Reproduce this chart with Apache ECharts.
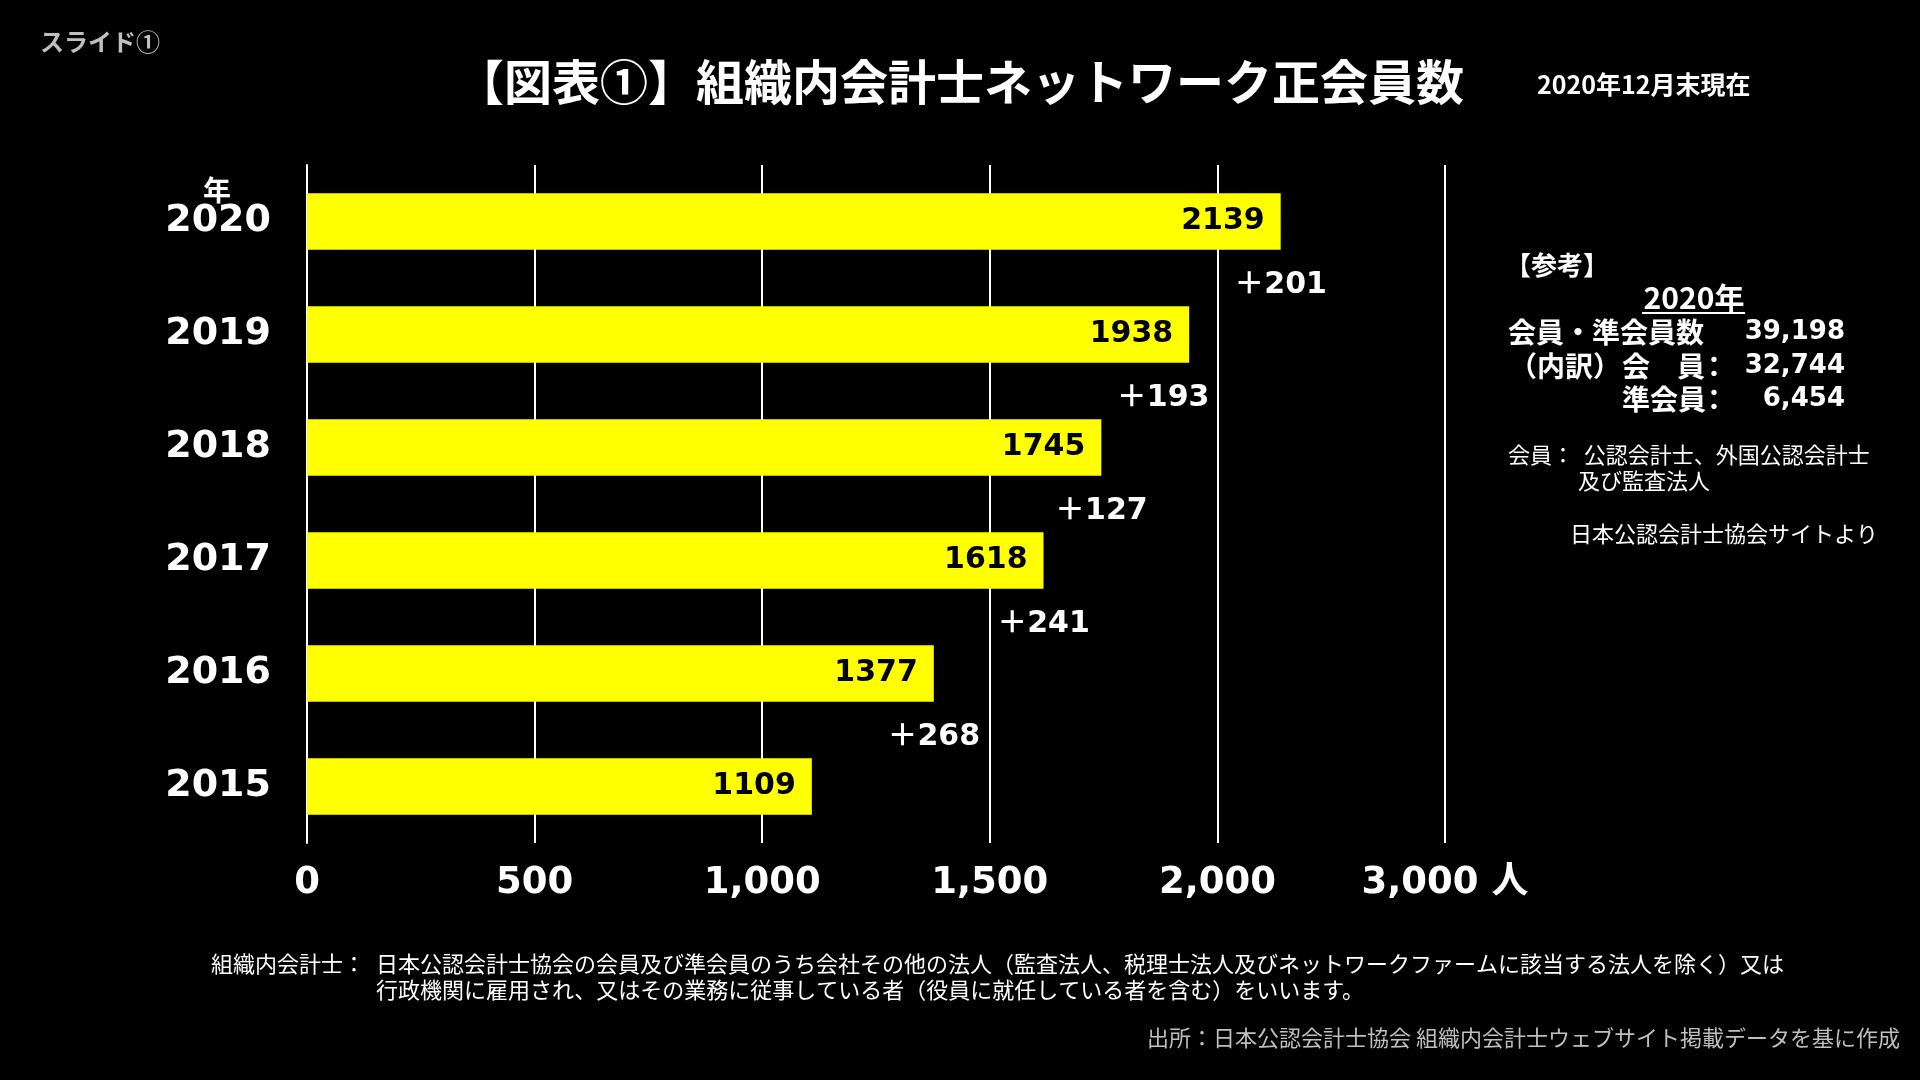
<!DOCTYPE html>
<html>
<head>
<meta charset="utf-8">
<script src="https://cdn.jsdelivr.net/npm/echarts@6/dist/echarts.min.js"></script>
<style>html,body{margin:0;padding:0;background:#000;}#c{width:1920px;height:1080px;}</style>
</head>
<body>
<div id="c"></div>
<script>
const years = ['2015', '2016', '2017', '2018', '2019', '2020'];
const members = [1109, 1377, 1618, 1745, 1938, 2139];
const xTicks = {0: '0', 500: '500', 1000: '1,000', 1500: '1,500', 2000: '2,000', 2500: '3,000 人'};
const refValues = ['39,198', '32,744', '6,454'];

const deltas = [];
for (let i = 1; i < members.length; i++) deltas.push(members[i] - members[i - 1]);

const NUM = "'DejaVu Sans', 'Noto Sans CJK JP', sans-serif";
const JP = "'Noto Sans CJK JP', sans-serif";

const chart = echarts.init(document.getElementById('c'));

const g = [];
function txt(x, y, text, size, opts) {
  opts = opts || {};
  g.push({
    type: 'text', x: x, y: y,
    style: {
      text: text, fill: opts.color || '#fff',
      font: (opts.bold === false ? '' : 'bold ') + size + 'px ' + (opts.family || JP),
      textAlign: opts.align || 'left', textVerticalAlign: 'middle'
    }
  });
}
txt(40, 42, 'スライド①', 24, {color: '#bfbfbf'});
txt(456, 82, '【図表①】組織内会計士ネットワーク正会員数', 48);
txt(1537, 84, '2020年12月末現在', 25);
txt(217, 190, '年', 28, {align: 'center'});

txt(1505, 265, '【参考】', 26);
txt(1694, 298, '2020年', 30, {align: 'center'});
g.push({type: 'line', shape: {x1: 1642, y1: 313, x2: 1745, y2: 313}, style: {stroke: '#fff', lineWidth: 2}});
txt(1508, 332, '会員・準会員数', 28);
txt(1509, 366, '（内訳）', 28);
txt(1622, 366, '会', 28);
txt(1677, 366, '員', 28);
txt(1700, 366, '：', 28);
txt(1622, 399, '準会員', 28);
txt(1700, 399, '：', 28);
const refY = [332, 366, 399];
for (let i = 0; i < refValues.length; i++) txt(1845, refY[i], refValues[i], 26, {align: 'right', family: NUM});

txt(1508, 455, '会員：  公認会計士、外国公認会計士', 22, {bold: false});
txt(1578, 481, '及び監査法人', 22, {bold: false});
txt(1570, 534, '日本公認会計士協会サイトより', 22, {bold: false});

txt(211, 964, '組織内会計士：', 22, {bold: false});
txt(376, 964, '日本公認会計士協会の会員及び準会員のうち会社その他の法人（監査法人、税理士法人及びネットワークファームに該当する法人を除く）又は', 22, {bold: false});
txt(376, 990, '行政機関に雇用され、又はその業務に従事している者（役員に就任している者を含む）をいいます。', 22, {bold: false});
txt(1900, 1038, '出所：日本公認会計士協会 組織内会計士ウェブサイト掲載データを基に作成', 22, {bold: false, color: '#bfbfbf', align: 'right'});

chart.setOption({
  backgroundColor: '#000',
  animation: false,
  grid: {left: 307, right: 475, top: 165, bottom: 237},
  xAxis: {
    type: 'value', min: 0, max: 2500, interval: 500,
    axisLine: {show: false}, axisTick: {show: false},
    splitLine: {show: true, lineStyle: {color: '#fff', width: 2}},
    axisLabel: {
      color: '#fff', fontSize: 37, fontWeight: 'bold', fontFamily: NUM, margin: 22,
      formatter: v => xTicks[v] !== undefined ? xTicks[v] : ''
    }
  },
  yAxis: [{
    type: 'category', data: years,
    axisLine: {show: true, lineStyle: {color: '#fff', width: 2}},
    axisTick: {show: false},
    axisLabel: {color: '#fff', fontSize: 38, fontWeight: 'bold', fontFamily: NUM, margin: 36}
  }, {
    type: 'value', min: 0, max: 6, show: false
  }],
  series: [{
    type: 'bar', data: members, barCategoryGap: '50%',
    itemStyle: {color: '#ffff00'},
    label: {
      show: true, position: 'insideRight', distance: 16,
      color: '#000', fontSize: 30, fontWeight: 'bold', fontFamily: NUM
    }
  }, {
    type: 'scatter', yAxisIndex: 1, symbolSize: 0,
    itemStyle: {opacity: 1},
    data: deltas.map((d, i) => ({
      value: [members[i + 1], i + 1],
      label: {offset: i === 3 ? [-26, 7] : [0, 7]}
    })),
    label: {
      show: true, position: 'inside',
      color: '#fff', fontSize: 30, fontWeight: 'bold', fontFamily: NUM,
      formatter: p => '＋' + deltas[p.dataIndex]
    }
  }],
  graphic: g
});
</script>
</body>
</html>
